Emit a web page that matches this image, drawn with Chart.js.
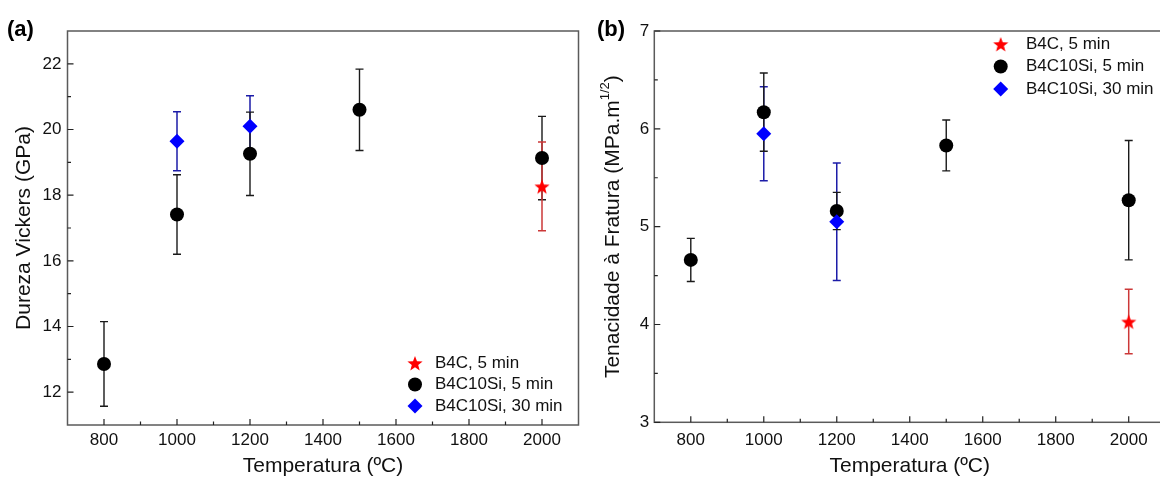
<!DOCTYPE html>
<html>
<head>
<meta charset="utf-8">
<script src="https://cdn.jsdelivr.net/npm/chart.js@4.4.0/dist/chart.umd.min.js"></script>
<style>
    html, body { margin: 0; padding: 0; background: #fff; overflow: hidden; }
    #wrap { position: relative; width: 1160px; height: 477px; overflow: hidden; }
    #hardnessChart { position: absolute; left: 0; top: 0; }
    #toughnessChart { position: absolute; left: 590px; top: 0; }
    .panel-tag { position: absolute; font: bold 22px "Liberation Sans", Arial, sans-serif; color: #000; }
</style>
</head>
<body>
<div id="wrap">
    <canvas id="hardnessChart" width="590" height="477"></canvas>
    <canvas id="toughnessChart" width="600" height="477"></canvas>
    <div class="panel-tag" style="left:7px; top:16px;">(a)</div>
    <div class="panel-tag" style="left:597px; top:16px;">(b)</div>
</div>
<script>
// Series labels and tick labels
const seriesLabels = ['B4C, 5 min', 'B4C10Si, 5 min', 'B4C10Si, 30 min'];
const tempTicks = [800, 1000, 1200, 1400, 1600, 1800, 2000];
const hardnessTicks = [12, 14, 16, 18, 20, 22];
const toughnessTicks = [3, 4, 5, 6, 7];

// B4C, 5 min
const b4cTemp = [2000];
const b4cHardness = [18.27];
const b4cHardnessErr = [1.35];
const b4cToughness = [4.03];
const b4cToughnessErr = [0.33];

// B4C10Si, 5 min
const si5Temp = [800, 1000, 1200, 1500, 2000];
const si5Hardness = [12.86, 17.41, 19.26, 20.6, 19.13];
const si5HardnessErr = [1.29, 1.21, 1.27, 1.24, 1.27];
const si5Toughness = [4.66, 6.17, 5.16, 5.83, 5.27];
const si5ToughnessErr = [0.22, 0.40, 0.19, 0.26, 0.61];

// B4C10Si, 30 min
const si30Temp = [1000, 1200];
const si30Hardness = [19.64, 20.1];
const si30HardnessErr = [0.9, 0.93];
const si30Toughness = [5.95, 5.05];
const si30ToughnessErr = [0.48, 0.6];

const FONT = '"Liberation Sans", Arial, sans-serif';
Chart.defaults.font.family = FONT;
Chart.defaults.color = '#111';

// Function to build a filled star marker
function makeStar(color, r) {
    const c = document.createElement('canvas');
    const size = Math.ceil(r * 2) + 2;
    c.width = c.height = size;
    const ctx = c.getContext('2d');
    ctx.fillStyle = color;
    ctx.beginPath();
    for (let i = 0; i < 10; i++) {
        const rad = i % 2 === 0 ? r : r * 0.42;
        const a = -Math.PI / 2 + i * Math.PI / 5;
        ctx.lineTo(size / 2 + rad * Math.cos(a), size / 2 + 1 + rad * Math.sin(a));
    }
    ctx.closePath();
    ctx.fill();
    return c;
}

// Function to zip x, y and error arrays into points
function toPoints(xs, ys, errs) {
    return xs.map((x, i) => ({ x: x, y: ys[i], err: errs[i] }));
}

// Error bars drawn under the markers
const errorBars = {
    id: 'errorBars',
    beforeDatasetsDraw(chart) {
        const ctx = chart.ctx;
        const yScale = chart.scales.y;
        chart.data.datasets.forEach((ds, i) => {
            const meta = chart.getDatasetMeta(i);
            ctx.save();
            ctx.strokeStyle = ds.errorColor;
            ctx.lineWidth = ds.errorWidth;
            meta.data.forEach((pt, j) => {
                const d = ds.data[j];
                const top = yScale.getPixelForValue(d.y + d.err);
                const bot = yScale.getPixelForValue(d.y - d.err);
                ctx.beginPath();
                ctx.moveTo(pt.x, top); ctx.lineTo(pt.x, bot);
                ctx.moveTo(pt.x - 4, top); ctx.lineTo(pt.x + 4, top);
                ctx.moveTo(pt.x - 4, bot); ctx.lineTo(pt.x + 4, bot);
                ctx.stroke();
            });
            ctx.restore();
        });
    }
};

// Box around the plot with inward major and minor ticks
const frame = {
    id: 'frame',
    beforeDatasetsDraw(chart) {
        const { ctx, chartArea: a, scales: { x, y } } = chart;
        ctx.save();
        ctx.strokeStyle = '#5a5a5a';
        ctx.lineWidth = 1.5;
        ctx.strokeRect(a.left, a.top, a.right - a.left, a.bottom - a.top);
        ctx.strokeStyle = '#222';
        ctx.lineWidth = 1.2;
        ctx.beginPath();
        const xs = x.ticks.map(t => t.value);
        const ys = y.ticks.map(t => t.value);
        xs.forEach((v, i) => {
            const px = x.getPixelForValue(v);
            ctx.moveTo(px, a.bottom); ctx.lineTo(px, a.bottom - 6);
            const mids = [v + (xs[1] - xs[0]) / 2];
            if (i === 0) mids.push(v - (xs[1] - xs[0]) / 2);
            mids.forEach(m => {
                if (m <= x.min || m >= x.max) return;
                const mx = x.getPixelForValue(m);
                ctx.moveTo(mx, a.bottom); ctx.lineTo(mx, a.bottom - 3.5);
            });
        });
        ys.forEach((v, i) => {
            const py = y.getPixelForValue(v);
            ctx.moveTo(a.left, py); ctx.lineTo(a.left + 6, py);
            const mids = [v + (ys[1] - ys[0]) / 2];
            if (i === 0) mids.push(v - (ys[1] - ys[0]) / 2);
            mids.forEach(m => {
                if (m <= y.min || m >= y.max) return;
                const my = y.getPixelForValue(m);
                ctx.moveTo(a.left, my); ctx.lineTo(a.left + 3.5, my);
            });
        });
        ctx.stroke();
        ctx.restore();
    }
};

// Legend drawn inside the plot area
const insideLegend = {
    id: 'insideLegend',
    afterDatasetsDraw(chart, args, opts) {
        const ctx = chart.ctx;
        ctx.save();
        ctx.font = '17px ' + FONT;
        ctx.textBaseline = 'middle';
        opts.order.forEach((idx, row) => {
            const ds = chart.data.datasets[idx];
            const y = opts.y + row * opts.rowH;
            ctx.fillStyle = ds.backgroundColor;
            Chart.helpers.drawPoint(ctx, { pointStyle: ds.pointStyle, radius: ds.pointRadius, rotation: 0, borderWidth: 0 }, opts.x, y);
            ctx.fillStyle = '#111';
            ctx.fillText(ds.label, opts.textX, y);
        });
        ctx.restore();
    }
};

// Y title with a superscript, for the toughness chart
const supTitle = {
    id: 'supTitle',
    afterDraw(chart, args, opts) {
        if (!opts.text) return;
        const ctx = chart.ctx;
        const a = chart.chartArea;
        const main = '21px ' + FONT;
        const small = '13px ' + FONT;
        ctx.save();
        ctx.translate(opts.x, (a.top + a.bottom) / 2);
        ctx.rotate(-Math.PI / 2);
        ctx.textBaseline = 'middle';
        ctx.fillStyle = '#111';
        ctx.font = main;
        const w1 = ctx.measureText(opts.text).width;
        const w3 = ctx.measureText(opts.tail).width;
        ctx.font = small;
        const w2 = ctx.measureText(opts.sup).width;
        const x0 = -(w1 + w2 + w3) / 2;
        ctx.font = main;
        ctx.fillText(opts.text, x0, 0);
        ctx.fillText(opts.tail, x0 + w1 + w2, 0);
        ctx.font = small;
        ctx.fillText(opts.sup, x0 + w1, -8);
        ctx.restore();
    }
};

// Function to build the datasets of one panel
function buildDatasets(b4c, si5, si30) {
    return [
        {
            label: seriesLabels[2], data: si30, pointStyle: 'rectRot', pointRadius: 7.5,
            backgroundColor: '#0000ff', errorColor: '#1c1ca8', errorWidth: 1.5
        },
        {
            label: seriesLabels[1], data: si5, pointStyle: 'circle', pointRadius: 7,
            backgroundColor: '#000000', errorColor: '#1a1a1a', errorWidth: 1.4
        },
        {
            label: seriesLabels[0], data: b4c, pointStyle: makeStar('#ff0000', 8), pointRadius: 8,
            backgroundColor: '#ff0000', errorColor: '#cc3838', errorWidth: 1.5
        }
    ].map(ds => Object.assign(ds, { pointBorderWidth: 0, pointHoverRadius: ds.pointRadius, showLine: false }));
}

// Function to render one panel
function renderPanel(canvasId, cfg) {
    const ctx = document.getElementById(canvasId).getContext('2d');
    return new Chart(ctx, {
        type: 'scatter',
        data: { datasets: cfg.datasets },
        plugins: [frame, errorBars, insideLegend, supTitle],
        options: {
            responsive: false,
            animation: false,
            devicePixelRatio: 1,
            layout: { padding: { left: 0, top: cfg.top, right: cfg.right, bottom: 0 } },
            plugins: {
                legend: { display: false },
                tooltip: { enabled: false },
                insideLegend: cfg.legend,
                supTitle: cfg.supTitle || {}
            },
            scales: {
                x: {
                    type: 'linear', min: 700, max: 2100,
                    afterBuildTicks: s => { s.ticks = tempTicks.map(v => ({ value: v })); },
                    afterFit: s => { s.height = cfg.xHeight; },
                    grid: { display: false, drawTicks: false },
                    border: { display: false },
                    ticks: { padding: cfg.xPad, color: '#111', font: { size: 17 }, callback: v => String(v) },
                    title: { display: true, text: 'Temperatura (ºC)', color: '#111', font: { size: 21, lineHeight: 1 }, padding: { top: 0, bottom: 0 } }
                },
                y: {
                    type: 'linear', min: cfg.yMin, max: cfg.yMax,
                    afterBuildTicks: s => { s.ticks = cfg.yTicks.map(v => ({ value: v })); },
                    afterFit: s => { s.width = cfg.yWidth; },
                    grid: { display: false, drawTicks: false },
                    border: { display: false },
                    ticks: { padding: cfg.yPad, color: '#111', font: { size: 17 }, callback: v => String(v) },
                    title: { display: !!cfg.yTitle, text: cfg.yTitle || '', color: '#111', font: { size: 21, lineHeight: 1 }, padding: { top: 14, bottom: 0 } }
                }
            }
        }
    });
}

window.addEventListener('DOMContentLoaded', () => {
    // Panel (a): Vickers hardness
    renderPanel('hardnessChart', {
        datasets: buildDatasets(
            toPoints(b4cTemp, b4cHardness, b4cHardnessErr),
            toPoints(si5Temp, si5Hardness, si5HardnessErr),
            toPoints(si30Temp, si30Hardness, si30HardnessErr)
        ),
        top: 31, right: 11.5, xHeight: 52, yWidth: 67.5, xPad: 5, yPad: 6,
        yMin: 11, yMax: 23, yTicks: hardnessTicks,
        yTitle: 'Dureza Vickers (GPa)',
        legend: { order: [2, 1, 0], x: 415, textX: 435, y: 363, rowH: 21.5 }
    });

    // Panel (b): fracture toughness
    renderPanel('toughnessChart', {
        datasets: buildDatasets(
            toPoints(b4cTemp, b4cToughness, b4cToughnessErr),
            toPoints(si5Temp, si5Toughness, si5ToughnessErr),
            toPoints(si30Temp, si30Toughness, si30ToughnessErr)
        ),
        top: 31, right: 24.8, xHeight: 54.7, yWidth: 64.3, xPad: 7.5, yPad: 5,
        yMin: 3, yMax: 7, yTicks: toughnessTicks,
        supTitle: { x: 23, text: 'Tenacidade à Fratura (MPa.m', sup: '1/2', tail: ')' },
        legend: { order: [2, 1, 0], x: 410.7, textX: 436, y: 44, rowH: 22.5 }
    });
});
</script>
</body>
</html>
